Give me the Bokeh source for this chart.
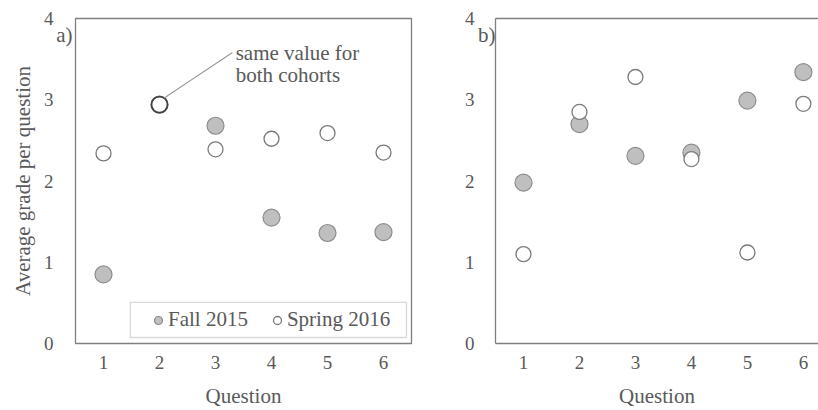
from bokeh.plotting import figure
from bokeh.models import (FixedTicker, Legend, LegendItem, Label, BoxAnnotation,
                          LinearAxis, Range1d, Segment, ColumnDataSource)
from bokeh.layouts import row
from bokeh.embed import file_html
from bokeh.resources import INLINE

# ---- data ----
questions = [1, 2, 3, 4, 5, 6]
fall_a = [0.85, 2.94, 2.68, 1.55, 1.36, 1.37]
spring_a = [2.34, 2.94, 2.39, 2.52, 2.59, 2.35]
fall_b = [1.98, 2.70, 2.31, 2.35, 2.99, 3.34]
spring_b = [1.10, 2.85, 3.28, 2.27, 1.12, 2.95]
y_ticks = [0, 1, 2, 3, 4]
series_names = ["Fall 2015", "Spring 2016"]
panel_names = ["a)", "b)"]
x_label = "Question"
y_label = "Average grade per question"
note_lines = ["same value for", "both cohorts"]

# ---- style ----
FONT = "Liberation Serif"
TXT = "#595959"
FRAME = "#7f7f7f"
FALL_FILL = "#bfbfbf"
FALL_LINE = "#8c8c8c"
SPR_LINE = "#7a7a7a"
PANEL_TAG_Y = 3.8


def plain_axis(ax, size):
    ax.major_tick_line_color = None
    ax.minor_tick_line_color = None
    ax.major_tick_out = 0
    ax.major_tick_in = 0
    ax.minor_tick_out = 0
    ax.minor_tick_in = 0
    ax.major_label_text_font = FONT
    ax.major_label_text_font_size = size
    ax.major_label_text_color = TXT
    ax.axis_label_text_font = FONT
    ax.axis_label_text_font_size = "21px"
    ax.axis_label_text_color = TXT
    ax.axis_label_text_font_style = "normal"


def build_axes(p, tag, tag_standoff, digit_standoff, ylab=None, frame_line=None):
    # panel tag ("a)" / "b)") sits next to the frame, grade ticks outside it
    tag_ax = LinearAxis(ticker=FixedTicker(ticks=[PANEL_TAG_Y]),
                        major_label_overrides={PANEL_TAG_Y: tag},
                        major_label_standoff=tag_standoff,
                        axis_line_color=frame_line, axis_line_width=1.3)
    plain_axis(tag_ax, "21px")
    p.add_layout(tag_ax, "left")
    y_ax = LinearAxis(ticker=FixedTicker(ticks=y_ticks),
                      major_label_standoff=digit_standoff, axis_line_color=None)
    plain_axis(y_ax, "19px")
    if ylab:
        y_ax.axis_label = ylab
        y_ax.axis_label_standoff = 6
    p.add_layout(y_ax, "left")
    xa = p.xaxis[0]
    plain_axis(xa, "19px")
    xa.ticker = FixedTicker(ticks=questions)
    xa.major_label_standoff = 12
    xa.axis_label = x_label
    xa.axis_label_standoff = 12
    xa.axis_line_color = frame_line
    xa.axis_line_width = 1.3
    p.grid.visible = False


def add_points(p, fall, spring):
    r1 = p.scatter(questions, fall, size=17, fill_color=FALL_FILL,
                   line_color=FALL_LINE, line_width=1.2)
    r2 = p.scatter(questions, spring, size=15, fill_color="white",
                   line_color=SPR_LINE, line_width=1.3)
    return r1, r2


# ---- panel a ----
p1 = figure(width=431, height=410, output_backend="svg", toolbar_location=None,
            x_range=Range1d(0.5, 6.5), y_range=Range1d(0, 4),
            y_axis_location=None,
            min_border_left=75, min_border_right=20, min_border_top=18,
            min_border_bottom=67)
p1.outline_line_color = FRAME
p1.outline_line_width = 1.3
build_axes(p1, panel_names[0], 3, 0, ylab=y_label)
ra1, ra2 = add_points(p1, fall_a, spring_a)
# darker ring where both cohorts coincide
same = [i for i in range(len(questions)) if fall_a[i] == spring_a[i]]
p1.scatter([questions[i] for i in same], [spring_a[i] for i in same], size=16,
           fill_color="white", line_color="#404040", line_width=1.8)

legend = Legend(items=[LegendItem(label=series_names[0], renderers=[ra1]),
                       LegendItem(label=series_names[1], renderers=[ra2])],
                orientation="horizontal", location=(73, 11),
                glyph_width=20, glyph_height=24, label_standoff=0, spacing=19,
                padding=6, margin=0, border_line_color=None,
                background_fill_alpha=0,
                label_text_font=FONT, label_text_font_size="21px",
                label_text_color=TXT)
p1.add_layout(legend, "center")
p1.add_layout(BoxAnnotation(left=1.48, right=6.41, bottom=0.074, top=0.505,
                            fill_alpha=0, line_color=FRAME, line_width=1.3))

# leader line from the coinciding point to the note
q = same[0]
x0, y0 = questions[q], spring_a[q]
src = ColumnDataSource(dict(x0=[x0 + 0.08], y0=[y0 + 0.08],
                            x1=[x0 + 1.3], y1=[y0 + 0.64]))
p1.add_glyph(src, Segment(x0="x0", y0="y0", x1="x1", y1="y1",
                          line_color="#8c8c8c", line_width=1.2))
p1.add_layout(Label(x=x0 + 1.36, y=y0 + 0.64, text=note_lines[0],
                    text_baseline="middle", text_font=FONT,
                    text_font_size="21px", text_color=TXT))
p1.add_layout(Label(x=x0 + 1.36, y=y0 + 0.36, text=note_lines[1],
                    text_baseline="middle", text_font=FONT,
                    text_font_size="21px", text_color=TXT))

# ---- panel b (its right edge is cut off in the original) ----
p2 = figure(width=387, height=410, output_backend="svg", toolbar_location=None,
            x_range=Range1d(0.5, 6.27), y_range=Range1d(0, 4),
            y_axis_location=None,
            min_border_left=64, min_border_right=0, min_border_top=18,
            min_border_bottom=67)
p2.outline_line_color = None
build_axes(p2, panel_names[1], 0, 1, frame_line=FRAME)
top = LinearAxis(ticker=FixedTicker(ticks=[]), axis_line_color=FRAME,
                 axis_line_width=1.3, major_tick_line_color=None,
                 minor_tick_line_color=None, major_tick_out=0, major_tick_in=0,
                 major_label_text_font_size="0px")
p2.add_layout(top, "above")
add_points(p2, fall_b, spring_b)

for p in (p1, p2):
    p.background_fill_color = "white"
    p.border_fill_color = "white"

layout = row(p1, p2)
open("out.html", "w").write(file_html(layout, INLINE))
